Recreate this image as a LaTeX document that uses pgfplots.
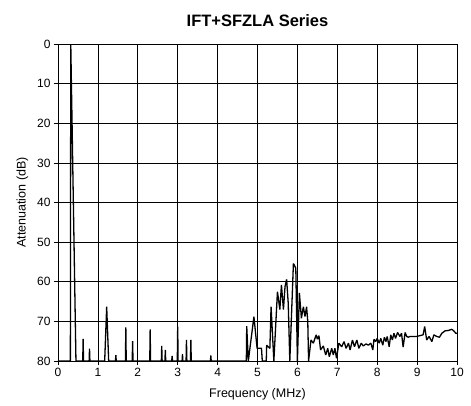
\documentclass[border=0pt]{standalone}
\usepackage{pgfplots}
\pgfplotsset{compat=1.18}
\usepackage{fontspec}
\setmainfont{Liberation Sans}
\begin{document}
\begin{tikzpicture}
\begin{axis}[
  scale only axis,
  width=399pt, height=317pt,
  xmin=0, xmax=10, ymin=0, ymax=80,
  y dir=reverse,
  xtick={0,1,...,10}, ytick={0,10,...,80},
  grid=major,
  major grid style={black, line width=0.7pt},
  axis line style={black, line width=0.8pt},
  tick style={black, line width=0.6pt},
  tick align=outside,
  major tick length=4pt,
  xtick pos=bottom, ytick pos=left,
  ticklabel style={font=\fontsize{12}{12}\selectfont},
  /pgf/number format/assume math mode=true,
  xlabel={Frequency (MHz)},
  ylabel={Attenuation (dB)},
  xlabel style={font=\fontsize{12.5}{12}\selectfont, yshift=-5pt},
  ylabel style={font=\fontsize{12.5}{12}\selectfont, yshift=2pt},
  title={IFT+SFZLA Series},
  title style={font=\bfseries\fontsize{16.5}{17}\selectfont, yshift=8pt},
  clip=true,
]
\addplot[black, line width=1.3pt, line join=bevel] coordinates {
(0.0,80)(0.31,80)(0.32,0)(0.45,80)
(0.62,80)(0.63,74.4)(0.64,80)
(0.78,80)(0.79,76.9)(0.80,80)
(1.17,80)(1.22,66.3)(1.27,80)
(1.44,80)(1.45,78.5)(1.46,80)
(1.69,80)(1.70,71.5)(1.71,80)
(1.86,80)(1.87,75.0)(1.88,80)
(2.30,80)(2.31,72.0)(2.32,80)
(2.59,80)(2.60,76.2)(2.61,80)
(2.68,80)(2.69,77.2)(2.70,80)
(2.85,80)(2.86,78.7)(2.87,80)
(2.99,80)(3.00,71.3)(3.01,80)
(3.11,80)(3.12,78.3)(3.13,80)
(3.21,80)(3.22,74.7)(3.23,80)
(3.32,80)(3.33,74.7)(3.34,80)
(3.82,80)(3.83,78.6)(3.84,80)
(4.72,80)(4.73,71.2)(4.77,80)(4.91,68.8)(4.99,76.8)(5.10,76.8)(5.12,80)
(5.22,80)(5.23,76.0)(5.31,76.8)(5.34,66.3)(5.41,80)(5.50,62.5)(5.56,67.0)
(5.60,60.8)(5.65,67.0)(5.69,61.2)(5.73,59.4)(5.77,65.4)(5.81,80)(5.90,55.4)
(5.96,56.6)(6.00,80)(6.05,62.8)(6.10,69.2)(6.15,66.3)(6.19,68.8)(6.23,66.3)
(6.26,70.0)(6.28,80)(6.34,74.7)(6.40,75.5)(6.47,73.4)(6.50,74.5)(6.54,73.6)
(6.58,77.2)(6.65,76.2)(6.71,78.5)(6.76,76.8)(6.80,78.9)(6.86,76.8)(6.90,78.5)
(6.94,76.8)(6.98,79.3)(7.04,75.5)(7.11,76.4)(7.17,75.1)(7.22,76.8)(7.28,75.5)
(7.32,77.2)(7.38,74.7)(7.43,76.4)(7.49,74.7)(7.54,76.8)(7.60,75.5)(7.65,76.2)
(7.72,75.7)(7.78,76.0)(7.84,75.5)(7.89,77.2)(7.92,74.5)(7.96,75.1)(8.00,74.3)
(8.05,75.5)(8.09,74.3)(8.14,76.0)(8.18,74.0)(8.22,75.1)(8.25,73.8)(8.30,76.4)
(8.34,73.4)(8.38,74.7)(8.42,73.0)(8.46,74.3)(8.51,72.8)(8.57,73.8)(8.61,73.0)
(8.65,76.5)(8.70,72.8)(8.74,73.8)(8.78,74.0)(8.82,73.8)(8.90,73.8)(8.99,73.8)
(9.07,73.6)(9.15,73.4)(9.19,71.3)(9.24,74.7)(9.30,73.8)(9.37,75.1)(9.42,73.4)
(9.49,73.8)(9.56,74.0)(9.62,73.0)(9.70,72.4)(9.78,72.3)(9.87,72.0)(9.92,72.4)
(9.97,73.0)(10.0,73.0)
};
\end{axis}
\pgfresetboundingbox
\path (current axis.south west) ++(-58pt,-44pt) rectangle ++(471pt,405pt);
\end{tikzpicture}
\end{document}
